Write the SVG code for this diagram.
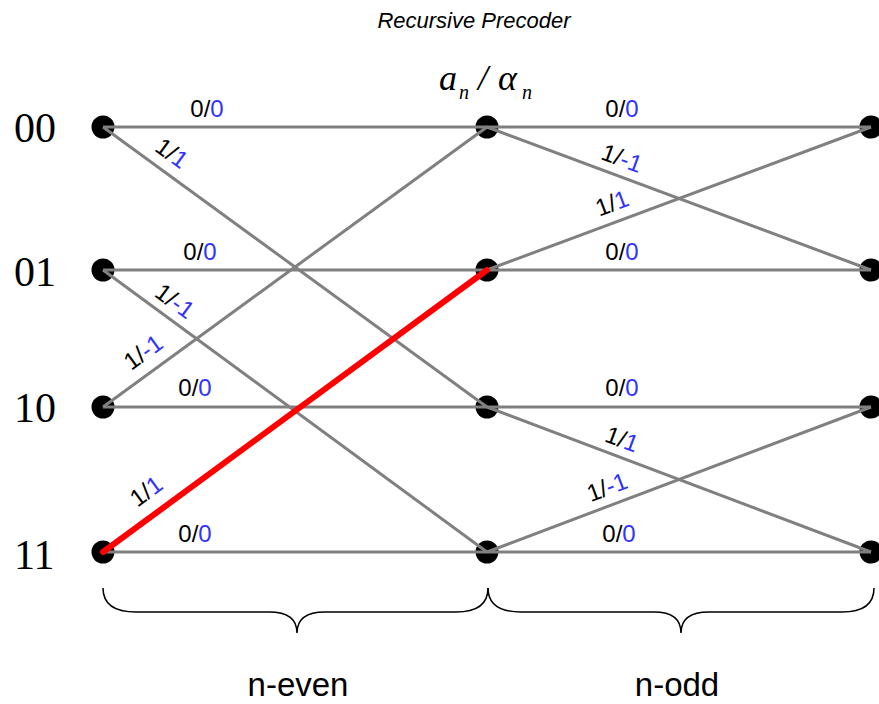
<svg xmlns="http://www.w3.org/2000/svg" width="879" height="704" viewBox="0 0 879 704">
<style>
  .node { fill: #000000; }
  .edge { stroke: #808080; stroke-width: 3; fill: none; }
  .path { stroke: #ff0000; stroke-width: 6; fill: none; stroke-linecap: round; }
  .lbl { font-family: "Liberation Sans", Arial, sans-serif; font-size: 24px; fill: #000000; }
  .b { fill: #3232ff; }
  .row { font-family: "Liberation Serif", "Times New Roman", serif; font-size: 42px; fill: #000000; }
  .title { font-family: "Liberation Sans", Arial, sans-serif; font-size: 22px; font-style: italic; fill: #000000; }
  .math { font-family: "Liberation Serif", "Times New Roman", serif; font-style: italic; fill: #000000; }
  .brace { stroke: #000000; stroke-width: 1.5; fill: none; }
  .foot { font-family: "Liberation Sans", Arial, sans-serif; font-size: 33px; fill: #000000; }
</style>
<rect width="879" height="704" fill="#ffffff"/>

<text class="title" x="474" y="28" text-anchor="middle">Recursive Precoder</text>

<g id="state-label">
  <text class="math" x="439" y="90" font-size="36">a</text>
  <text class="math" x="459" y="99" font-size="20">n</text>
  <text class="math" x="478" y="90" font-size="36" font-style="normal">/</text>
  <text class="math" x="498" y="90" font-size="36">α</text>
  <text class="math" x="522" y="99" font-size="20">n</text>
</g>

<g id="nodes">
  <g id="n0-00"><circle class="node" cx="103" cy="127" r="11.5"/><text class="row" x="14" y="142">00</text></g>
  <g id="n0-01"><circle class="node" cx="103" cy="270" r="11.5"/><text class="row" x="14" y="286">01</text></g>
  <g id="n0-10"><circle class="node" cx="103" cy="407" r="11.5"/><text class="row" x="14" y="422">10</text></g>
  <g id="n0-11"><circle class="node" cx="103" cy="552" r="11.5"/><text class="row" x="14" y="569">11</text></g>
  <g id="n1-00"><circle class="node" cx="487" cy="127" r="11.5"/></g>
  <g id="n1-01"><circle class="node" cx="487" cy="270" r="11.5"/></g>
  <g id="n1-10"><circle class="node" cx="487" cy="407" r="11.5"/></g>
  <g id="n1-11"><circle class="node" cx="487" cy="552" r="11.5"/></g>
  <g id="n2-00"><circle class="node" cx="871" cy="127" r="11.5"/></g>
  <g id="n2-01"><circle class="node" cx="871" cy="270" r="11.5"/></g>
  <g id="n2-10"><circle class="node" cx="871" cy="407" r="11.5"/></g>
  <g id="n2-11"><circle class="node" cx="871" cy="552" r="11.5"/></g>
</g>

<g id="connectors">
  <line class="edge" x1="103" y1="127" x2="487" y2="127"/>
  <line class="edge" x1="103" y1="127" x2="487" y2="407"/>
  <line class="edge" x1="103" y1="270" x2="487" y2="270"/>
  <line class="edge" x1="103" y1="270" x2="487" y2="552"/>
  <line class="edge" x1="103" y1="407" x2="487" y2="407"/>
  <line class="edge" x1="103" y1="407" x2="487" y2="127"/>
  <line class="edge" x1="103" y1="552" x2="487" y2="552"/>
  <line class="edge" x1="487" y1="127" x2="871" y2="127"/>
  <line class="edge" x1="487" y1="127" x2="871" y2="270"/>
  <line class="edge" x1="487" y1="270" x2="871" y2="270"/>
  <line class="edge" x1="487" y1="270" x2="871" y2="127"/>
  <line class="edge" x1="487" y1="407" x2="871" y2="407"/>
  <line class="edge" x1="487" y1="407" x2="871" y2="552"/>
  <line class="edge" x1="487" y1="552" x2="871" y2="552"/>
  <line class="edge" x1="487" y1="552" x2="871" y2="407"/>
  <line class="path" x1="103" y1="552" x2="487" y2="270"/>
</g>

<g id="edge-labels">
  <text class="lbl" x="207" y="117" text-anchor="middle">0/<tspan class="b">0</tspan></text>
  <text class="lbl" x="200" y="260" text-anchor="middle">0/<tspan class="b">0</tspan></text>
  <text class="lbl" x="195" y="396" text-anchor="middle">0/<tspan class="b">0</tspan></text>
  <text class="lbl" x="195" y="542" text-anchor="middle">0/<tspan class="b">0</tspan></text>
  <text class="lbl" x="622" y="117" text-anchor="middle">0/<tspan class="b">0</tspan></text>
  <text class="lbl" x="622" y="260" text-anchor="middle">0/<tspan class="b">0</tspan></text>
  <text class="lbl" x="622" y="396" text-anchor="middle">0/<tspan class="b">0</tspan></text>
  <text class="lbl" x="619" y="542" text-anchor="middle">0/<tspan class="b">0</tspan></text>

  <text class="lbl" text-anchor="middle" dy="0.35em" transform="translate(172,153) rotate(36.1)">1/<tspan class="b">1</tspan></text>
  <text class="lbl" text-anchor="middle" dy="0.35em" transform="translate(175,301) rotate(36.3)">1/<tspan class="b">-1</tspan></text>
  <text class="lbl" text-anchor="middle" dy="0.35em" transform="translate(143,352) rotate(-36.1)">1/<tspan class="b">-1</tspan></text>
  <text class="lbl" text-anchor="middle" dy="0.35em" transform="translate(146,491) rotate(-36.3)">1/<tspan class="b">1</tspan></text>
  <text class="lbl" text-anchor="middle" dy="0.35em" transform="translate(622,158) rotate(20.4)">1/<tspan class="b">-1</tspan></text>
  <text class="lbl" text-anchor="middle" dy="0.35em" transform="translate(612,203) rotate(-20.4)">1/<tspan class="b">1</tspan></text>
  <text class="lbl" text-anchor="middle" dy="0.35em" transform="translate(622,439) rotate(20.7)">1/<tspan class="b">1</tspan></text>
  <text class="lbl" text-anchor="middle" dy="0.35em" transform="translate(607,487) rotate(-20.7)">1/<tspan class="b">-1</tspan></text>
</g>

<g id="braces">
  <path class="brace" d="M103,588 C103,604 114,612 136,612 L269,612 C289,612 297,620 297,633 C297,620 305,612 325,612 L456,612 C478,612 488,604 488,588"/>
  <path class="brace" d="M488,588 C488,604 499,612 521,612 L654,612 C674,612 681,620 681,633 C681,620 689,612 709,612 L842,612 C864,612 874,604 874,588"/>
  <text class="foot" x="298" y="696" text-anchor="middle">n-even</text>
  <text class="foot" x="677" y="696" text-anchor="middle">n-odd</text>
</g>
</svg>
